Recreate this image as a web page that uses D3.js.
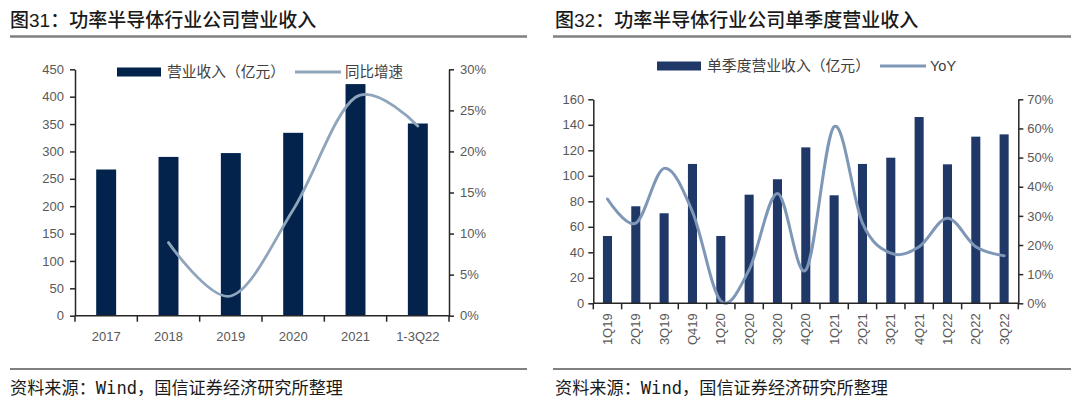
<!DOCTYPE html>
<html><head><meta charset="utf-8">
<script src="https://cdn.jsdelivr.net/npm/d3@7"></script>
<style>
html,body{margin:0;padding:0;background:#fff;}
svg{display:block;font-family:"Liberation Sans","Noto Sans CJK SC",sans-serif;}
</style></head>
<body><svg id="c" width="1080" height="409"></svg>
<script>
// ---- Data ----
const yearCats = ["2017","2018","2019","2020","2021","1-3Q22"];
const yearRevenue = [267, 290, 297, 334, 423, 351];
const yearYoY = [null, 0.089, 0.024, 0.129, 0.266, 0.231];
const leftTicks = [0,50,100,150,200,250,300,350,400,450];
const leftPctTicks = [0,0.05,0.10,0.15,0.20,0.25,0.30];

const qCats = ["1Q19","2Q19","3Q19","Q419","1Q20","2Q20","3Q20","4Q20","1Q21","2Q21","3Q21","4Q21","1Q22","2Q22","3Q22"];
const qRevenue = [52.8, 76.1, 70.6, 109.3, 52.8, 85.2, 97.3, 122.3, 84.7, 109.3, 114.2, 146.1, 109, 130.7, 132.5];
const qYoY = [0.358, 0.275, 0.463, 0.314, 0.008, 0.115, 0.377, 0.114, 0.606, 0.275, 0.172, 0.194, 0.292, 0.194, 0.163];
const rightTicks = [0,20,40,60,80,100,120,140,160];
const rightPctTicks = [0,0.1,0.2,0.3,0.4,0.5,0.6,0.7];

const titles = ["图31：功率半导体行业公司营业收入", "图32：功率半导体行业公司单季度营业收入"];
const source = "资料来源：Wind，国信证券经济研究所整理";

const svg = d3.select("#c");
const axisColor = "#262626";
const labelColor = "#595959";

// ---- Titles & rules ----
[[10,527,10],[553,1071,555]].forEach((r,i)=>{
  svg.append("text").attr("x", r[2]).attr("y", 27).attr("font-size", 19).attr("font-weight", 500)
    .attr("fill", "#1a1a1a").text(titles[i]);
  svg.append("line").attr("x1", r[0]).attr("x2", r[1]).attr("y1", 36.5).attr("y2", 36.5)
    .attr("stroke", "#808080").attr("stroke-width", 2.5);
  svg.append("line").attr("x1", r[0]).attr("x2", r[1]).attr("y1", 369).attr("y2", 369)
    .attr("stroke", "#808080").attr("stroke-width", 2.2);
  svg.append("text").attr("x", r[2]).attr("y", 394).attr("font-size", 17)
    .attr("font-family", "'DejaVu Sans Mono','Noto Sans CJK SC',monospace")
    .attr("textLength", 333).attr("lengthAdjust", "spacingAndGlyphs")
    .attr("fill", "#1a1a1a").text(source);
});

function drawChart(cfg){
  const g = svg.append("g");
  const x = d3.scaleBand().domain(cfg.cats).range([cfg.x0, cfg.x1]).padding(0);
  const y = d3.scaleLinear().domain(cfg.yDom).range([cfg.yBottom, cfg.yTop]);
  const yr = d3.scaleLinear().domain(cfg.yrDom).range([cfg.yBottom, cfg.yTop]);
  const bw = x.bandwidth()*cfg.barFrac;

  // bars
  g.selectAll("rect.bar").data(cfg.values).join("rect").attr("class","bar")
    .attr("x", (d,i)=> x(cfg.cats[i]) + x.bandwidth()/2 - bw/2)
    .attr("y", d=> y(d)).attr("width", bw).attr("height", d=> y(0)-y(d))
    .attr("fill", cfg.barColor);

  // line
  const pts = cfg.yoy.map((v,i)=>({c:cfg.cats[i], v})).filter(d=>d.v!==null);
  const line = d3.line().x(d=>x(d.c)+x.bandwidth()/2).y(d=>yr(d.v)).curve(d3.curveCardinal.tension(0));
  g.append("path").datum(pts).attr("d", line).attr("fill","none")
    .attr("stroke", cfg.lineColor).attr("stroke-width", cfg.lineWidth).attr("stroke-linecap","round");

  // left axis
  const la = g.append("g").attr("transform", `translate(${cfg.x0},0)`)
    .call(d3.axisLeft(y).tickValues(cfg.yTicks).tickSize(5).tickSizeOuter(0).tickPadding(cfg.tickPad));
  // right axis
  const ra = g.append("g").attr("transform", `translate(${cfg.x1},0)`)
    .call(d3.axisRight(yr).tickValues(cfg.yrTicks).tickSize(5).tickSizeOuter(0).tickPadding(cfg.tickPad)
      .tickFormat(d3.format(".0%")));
  [la, ra].forEach(a=>{
    a.select(".domain").attr("stroke", axisColor).attr("stroke-width", 1.5);
    a.selectAll(".tick line").attr("stroke", axisColor).attr("stroke-width", 1.5);
    a.selectAll(".tick text").attr("fill", labelColor).attr("font-size", 13)
      .attr("font-family", "'Liberation Sans',Arial,sans-serif");
  });
  // bottom axis line
  g.append("line").attr("x1", cfg.x0).attr("x2", cfg.x1).attr("y1", cfg.yBottom).attr("y2", cfg.yBottom)
    .attr("stroke", axisColor).attr("stroke-width", 1.5);
  // boundary ticks
  const bounds = cfg.cats.map(c=>x(c)).concat([cfg.x1]);
  g.selectAll("line.bt").data(bounds).join("line").attr("class","bt")
    .attr("x1", d=>d).attr("x2", d=>d).attr("y1", cfg.yBottom).attr("y2", cfg.yBottom+6)
    .attr("stroke", axisColor).attr("stroke-width", 1.5);
  // category labels
  if(cfg.rotate){
    g.selectAll("text.cl").data(cfg.cats).join("text").attr("class","cl")
      .attr("transform", d=>`translate(${x(d)+x.bandwidth()/2+4.5},${cfg.yBottom+10}) rotate(-90)`)
      .attr("text-anchor","end").attr("font-size", 13).attr("fill", labelColor).text(d=>d);
  } else {
    g.selectAll("text.cl").data(cfg.cats).join("text").attr("class","cl")
      .attr("x", d=>x(d)+x.bandwidth()/2).attr("y", cfg.yBottom+25)
      .attr("text-anchor","middle").attr("font-size", 13).attr("fill", labelColor).text(d=>d);
  }
  // legend
  const L = cfg.legend;
  g.append("rect").attr("x", L.x).attr("y", L.y-4.5).attr("width", 44).attr("height", 9).attr("fill", cfg.barColor);
  g.append("text").attr("x", L.x+50).attr("y", L.y+5).attr("font-size", 14.5).attr("fill", "#404040")
    .attr("textLength", L.t1w).attr("lengthAdjust","spacingAndGlyphs").text(L.t1);
  g.append("line").attr("x1", L.lx).attr("x2", L.lx+46).attr("y1", L.y).attr("y2", L.y)
    .attr("stroke", cfg.lineColor).attr("stroke-width", cfg.lineWidth);
  g.append("text").attr("x", L.lx+50).attr("y", L.y+5).attr("font-size", 14.5).attr("fill", "#404040").text(L.t2);
}

drawChart({
  cats: yearCats, values: yearRevenue, yoy: yearYoY,
  x0: 75, x1: 449, yBottom: 315.7, yTop: 69.3,
  yDom: [0,450], yrDom: [0,0.30], yTicks: leftTicks, yrTicks: leftPctTicks,
  barFrac: 0.32, barColor: "#03234d", lineColor: "#8fa5bb", lineWidth: 2.8, tickPad: 6,
  rotate: false,
  legend: {x: 117, y: 72, t1: "营业收入（亿元）", t1w: 118, lx: 295, t2: "同比增速"}
});

drawChart({
  cats: qCats, values: qRevenue, yoy: qYoY,
  x0: 593.3, x1: 1018.3, yBottom: 303.3, yTop: 99.3,
  yDom: [0,160], yrDom: [0,0.70], yTicks: rightTicks, yrTicks: rightPctTicks,
  barFrac: 0.32, barColor: "#1f3868", lineColor: "#7f97b6", lineWidth: 3, tickPad: 4,
  rotate: true,
  legend: {x: 657, y: 66, t1: "单季度营业收入（亿元）", t1w: 163, lx: 880, t2: "YoY"}
});
</script>
</body></html>
